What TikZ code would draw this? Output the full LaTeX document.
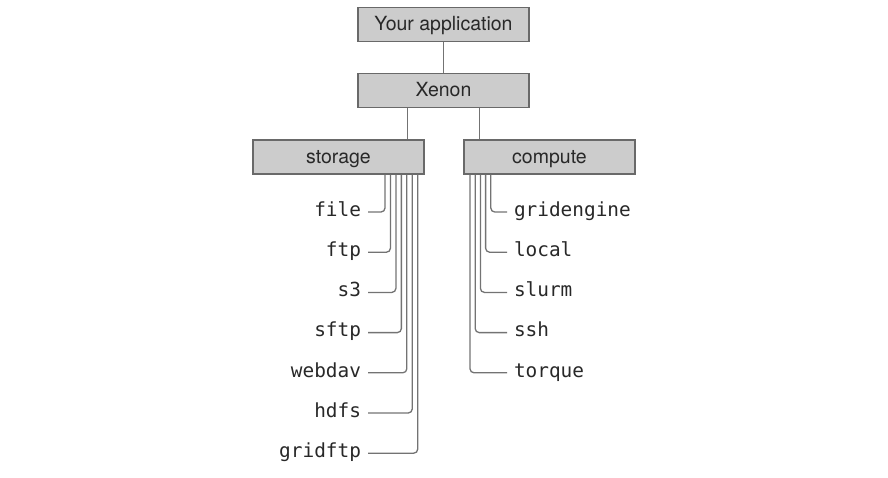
\documentclass[tikz,border=0pt]{standalone}
\usepackage{fontspec}
\setmainfont{TeX Gyre Heros}
\setmonofont{DejaVu Sans Mono}
\usepackage{tikz}

\definecolor{boxfill}{RGB}{204,204,204}
\definecolor{boxline}{RGB}{105,105,105}
\definecolor{wire}{RGB}{115,115,115}
\definecolor{ink}{RGB}{40,40,40}

\begin{document}
\begin{tikzpicture}[x=1pt,y=-1pt,
    layer/.style={draw=boxline,fill=boxfill,line width=1.3pt,minimum width=171pt,minimum height=34pt,inner sep=0pt,text=ink,text height=14pt,text depth=2pt,font=\fontsize{19.5}{20}\selectfont},
    conn/.style={draw=wire,line width=1.3pt},
    branch/.style={conn,rounded corners=4pt},
    adapter/.style={text=ink,font=\ttfamily\fontsize{19.4}{20}\selectfont,text height=13.5pt,text depth=5pt,inner xsep=4pt,outer xsep=3pt,inner ysep=0pt}]

        \useasboundingbox (0,0) rectangle (888,477);

        % 绘制各层方框
        \node[layer] (app) at (443.5,24.2) {Your application};
        \node[layer] (xenon) at (443.5,90.8) {Xenon};
        \node[layer] (storage) at (338.5,157) {storage};
        \node[layer] (compute) at (549.5,157) {compute};

        % 连接各层
        \draw[conn] (app) -- (xenon);
        \draw[conn] ([xshift=-36pt]xenon.south) -- ([xshift=-36pt]xenon.south |- storage.north);
        \draw[conn] ([xshift=36pt]xenon.south) -- ([xshift=36pt]xenon.south |- compute.north);

        % storage 适配器
        \foreach \proto [count=\i from 0] in {file,ftp,s3,sftp,webdav,hdfs,gridftp}
        {
          \node[adapter,anchor=east] (\proto) at (368,212+40.2*\i) {\proto};
          \draw[branch] ([xshift={(46.5+5.45*\i)*1pt}]storage.south) |- (\proto.east);
        }

        % compute 适配器
        \foreach \proto [count=\i from 0] in {gridengine,local,slurm,ssh,torque}
        {
          \node[adapter,anchor=west] (\proto) at (507,212+40.2*\i) {\proto};
          \draw[branch] ([xshift={(-58.7-5.2*\i)*1pt}]compute.south) |- (\proto.west);
        }

    \end{tikzpicture}
\end{document}
